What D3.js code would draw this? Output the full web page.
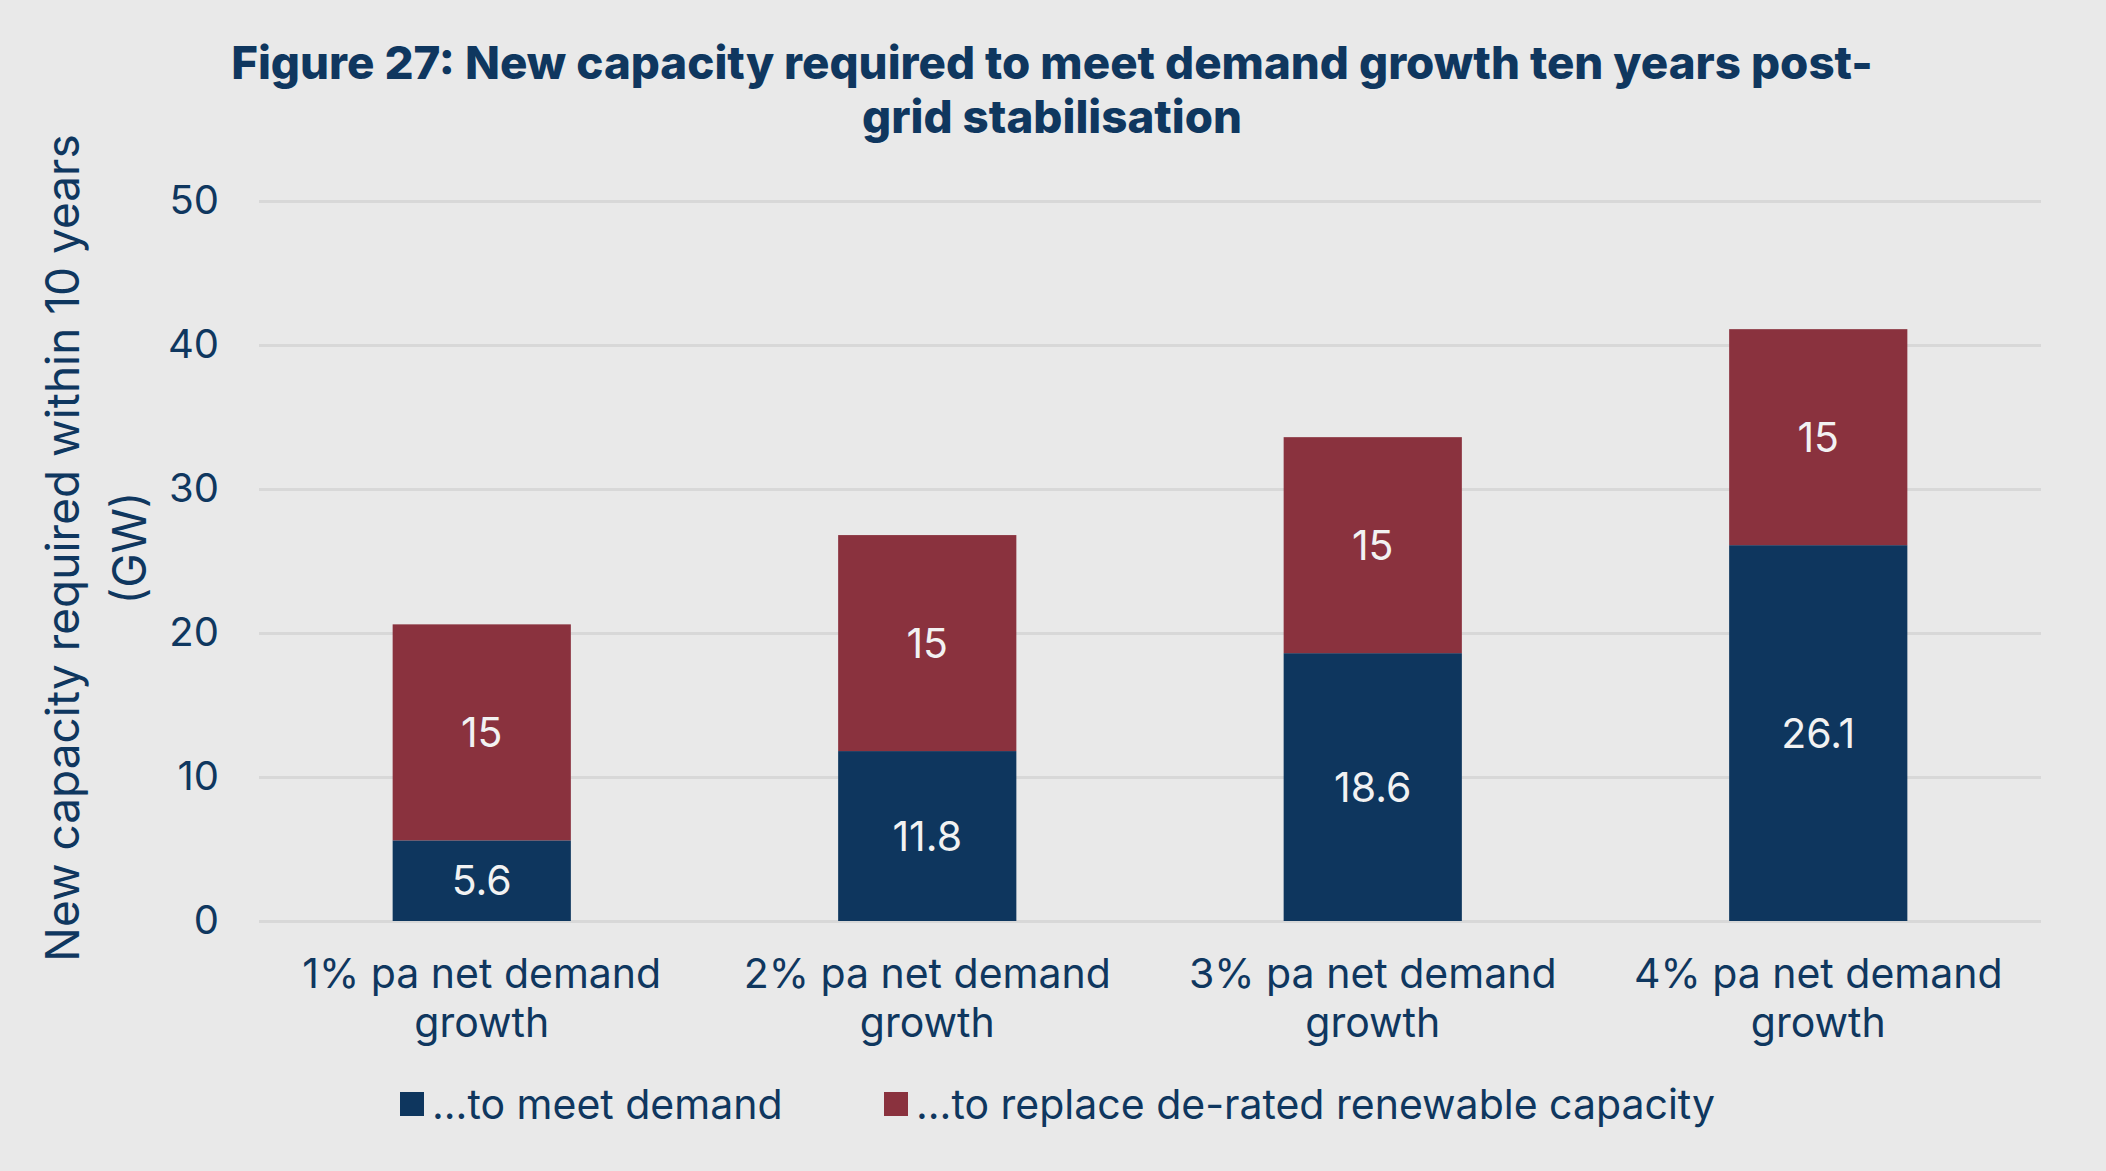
<!DOCTYPE html>
<html>
<head>
<meta charset="utf-8">
<script src="https://cdn.jsdelivr.net/npm/d3@7"></script>
<style>
  body { margin: 0; background: #e9e9e9; }
  text { font-family: Inter, "Noto Sans", sans-serif; }
</style>
</head>
<body>
<script>
var categories = [["1% pa net demand", "growth"], ["2% pa net demand", "growth"],
                  ["3% pa net demand", "growth"], ["4% pa net demand", "growth"]];
var meetDemand = [5.6, 11.8, 18.6, 26.1];
var replaceRenewable = [15, 15, 15, 15];
var seriesNames = ["...to meet demand", "...to replace de-rated renewable capacity"];
var yTicks = [0, 10, 20, 30, 40, 50];

var width = 2106, height = 1171;
var navy = "#0e365e", red = "#8a323e", ink = "#0f375f";

var svg = d3.select("body")
    .append("svg")
    .attr("width", width)
    .attr("height", height);

svg.append("rect").attr("width", width).attr("height", height).attr("fill", "#e9e9e9");

var x = d3.scaleBand()
    .domain(d3.range(categories.length))
    .range([259, 2041])
    .paddingInner(0.6)
    .paddingOuter(0.3);

var y = d3.scaleLinear()
    .domain([0, 50])
    .range([921, 201]);

// title
svg.append("text")
    .attr("x", 1052).attr("y", 79)
    .attr("text-anchor", "middle")
    .attr("font-size", 45.7).attr("font-weight", 800).attr("fill", ink)
    .text("Figure 27: New capacity required to meet demand growth ten years post-");
svg.append("text")
    .attr("x", 1052).attr("y", 133)
    .attr("text-anchor", "middle")
    .attr("font-size", 45.7).attr("font-weight", 800).attr("fill", ink)
    .text("grid stabilisation");

// gridlines + y axis
var yAxis = svg.append("g")
    .attr("transform", "translate(259,0)")
    .call(d3.axisLeft(y).tickValues(yTicks).tickSize(-(2041 - 259)).tickPadding(40));
yAxis.select(".domain").remove();
yAxis.selectAll(".tick line").attr("stroke", "#d8d8d8").attr("stroke-width", 3);
yAxis.selectAll(".tick text")
    .attr("font-size", 40).attr("fill", ink)
    .style("font-family", "Inter, sans-serif");

// y title
var yt = svg.append("text")
    .attr("transform", "translate(63,548) rotate(-90)")
    .attr("text-anchor", "middle")
    .attr("font-size", 46).attr("fill", ink);
yt.append("tspan").attr("x", 0).attr("dy", "0.35em").text("New capacity required within 10 years");
yt.append("tspan").attr("x", 0).attr("dy", 67).text("(GW)");

// bars
var stacks = d3.stack().keys([0, 1])
    .value(function (d, k) { return k === 0 ? meetDemand[d] : replaceRenewable[d]; })(d3.range(categories.length));
var colors = [navy, red];

stacks.forEach(function (layer, k) {
    var g = svg.append("g");
    g.selectAll("rect").data(layer).enter().append("rect")
        .attr("x", function (d, i) { return x(i); })
        .attr("width", x.bandwidth())
        .attr("y", function (d) { return y(d[1]); })
        .attr("height", function (d) { return y(d[0]) - y(d[1]); })
        .attr("fill", colors[k]);
    g.selectAll("text").data(layer).enter().append("text")
        .attr("x", function (d, i) { return x(i) + x.bandwidth() / 2; })
        .attr("y", function (d) { return (y(d[0]) + y(d[1])) / 2; })
        .attr("dy", "0.36em")
        .attr("text-anchor", "middle")
        .attr("font-size", 41).attr("fill", "#f2f2f2")
        .text(function (d, i) { return k === 0 ? meetDemand[i] : replaceRenewable[i]; });
});

// x labels
categories.forEach(function (c, i) {
    var t = svg.append("text")
        .attr("x", x(i) + x.bandwidth() / 2)
        .attr("y", 988)
        .attr("text-anchor", "middle")
        .attr("font-size", 41).attr("fill", ink);
    c.forEach(function (line, j) {
        t.append("tspan").attr("x", x(i) + x.bandwidth() / 2).attr("dy", j === 0 ? 0 : 49).text(line);
    });
});

// legend
var legendX = [400, 884];
seriesNames.forEach(function (name, k) {
    svg.append("rect")
        .attr("x", legendX[k]).attr("y", 1092)
        .attr("width", 24).attr("height", 24)
        .attr("fill", colors[k]);
    svg.append("text")
        .attr("x", legendX[k] + 32).attr("y", 1104)
        .attr("dy", "0.36em")
        .attr("font-size", 41).attr("fill", ink)
        .text(name);
});
</script>
</body>
</html>
